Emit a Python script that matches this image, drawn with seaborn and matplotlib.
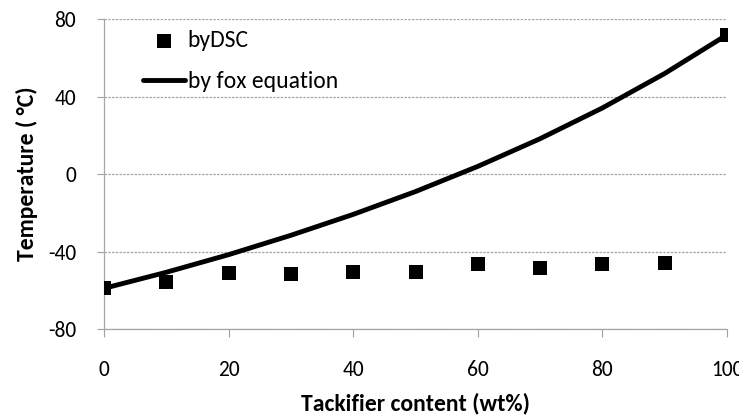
import matplotlib
matplotlib.use("Agg")
import matplotlib.pyplot as plt
import matplotlib.font_manager as fm
import seaborn as sns
import pandas as pd

# Tackifier content (wt%)
content = [0, 10, 20, 30, 40, 50, 60, 70, 80, 90, 100]
# Tg measured by DSC (°C)
tg_dsc = [-58.7, -55.6, -51.3, -51.6, -50.4, -50.7, -46.5, -48.6, -46.3, -45.8, 72.0]
# Tg predicted by the Fox equation (°C)
tg_fox = [-59.0, -50.7, -41.6, -31.6, -20.8, -9.0, 4.0, 18.3, 34.2, 52.0, 72.0]

y_ticks = [-80, -40, 0, 40, 80]
x_ticks = [0, 20, 40, 60, 80, 100]

sns.set_theme(style="white")
names = {f.name for f in fm.fontManager.ttflist}
family = next((n for n in ("Carlito", "Lato", "Open Sans") if n in names), "DejaVu Sans")
plt.rcParams["font.family"] = [family, "DejaVu Sans"]
plt.rcParams["axes.unicode_minus"] = False
plt.rcParams["text.color"] = "black"
plt.rcParams["axes.labelcolor"] = "black"

df = pd.DataFrame({"content": content, "dsc": tg_dsc, "fox": tg_fox})

fig = plt.figure(figsize=(7.39, 4.19), dpi=100)
ax = fig.add_axes([0.1407, 0.2148, 0.8431, 0.7392])

sns.scatterplot(data=df, x="content", y="dsc", marker="s", s=90, color="black",
                edgecolor="black", linewidth=0, ax=ax, label="byDSC", zorder=4)
sns.lineplot(data=df, x="content", y="fox", color="black", linewidth=3.5,
             ax=ax, label="by fox equation", zorder=3)

ax.set_xlim(0, 100)
ax.set_ylim(-80, 80)
ax.set_xticks(x_ticks)
ax.set_yticks(y_ticks)
ax.tick_params(axis="x", length=6, width=0.8, color="#a0a0a0", labelsize=15.5, pad=16,
               direction="out", bottom=True, labelcolor="black")
ax.tick_params(axis="y", length=5, width=0.8, color="#a0a0a0", labelsize=15.5, pad=15,
               direction="out", left=True, labelcolor="black")

ax.yaxis.grid(True, color="#a6a6a6", linestyle=(0, (2, 1)), linewidth=0.9)
ax.xaxis.grid(False)
for side in ("top", "right"):
    ax.spines[side].set_visible(False)
ax.spines["left"].set_color("#a6a6a6")
ax.spines["left"].set_linewidth(0.9)
ax.spines["bottom"].set_color("#a6a6a6")
ax.spines["bottom"].set_linewidth(0.9)
ax.spines["bottom"].set_linestyle((0, (2, 1)))

ax.set_xlabel("Tackifier content (wt%)", fontsize=17, fontweight="bold", labelpad=9)
ax.set_ylabel("Temperature ( °C)", fontsize=17, fontweight="bold", labelpad=7)

leg = ax.legend(loc="upper left", bbox_to_anchor=(0.0626, 0.965), frameon=False,
                fontsize=17, handlelength=1.78, handletextpad=0.12, labelspacing=0.85,
                borderpad=0, borderaxespad=0)
for t in leg.get_texts():
    t.set_color("black")

fig.savefig("out.png", dpi=100)
